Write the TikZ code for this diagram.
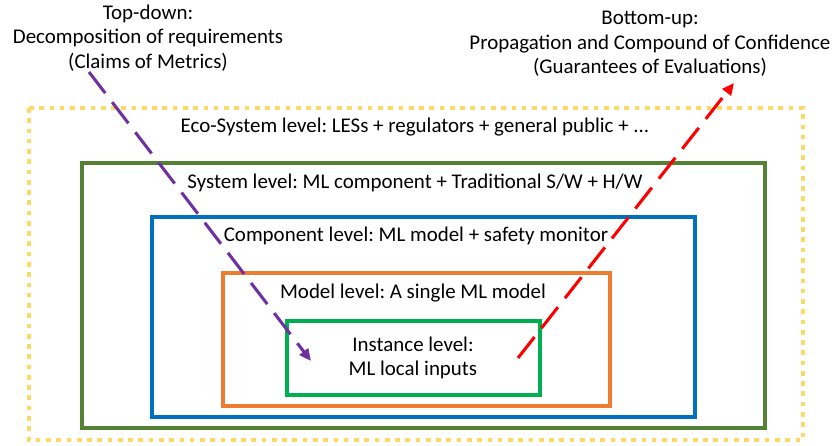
\documentclass[tikz,border=0pt]{standalone}
\usepackage{fontspec}
\setmainfont{Carlito}
\usepackage{xcolor}
\usepackage{tikz}
\usetikzlibrary{arrows.meta}
\definecolor{lvlyellow}{HTML}{FFD966}
\definecolor{lvlolive}{HTML}{548235}
\definecolor{lvlblue}{HTML}{0070C0}
\definecolor{lvlorange}{HTML}{ED7D31}
\definecolor{lvlgreen}{HTML}{00B050}
\definecolor{lvlpurple}{HTML}{7030A0}
\definecolor{lvlred}{HTML}{FF0000}
\frenchspacing

\begin{document}
\begin{tikzpicture}[x=0.75pt,y=-0.75pt,
 lvltext/.style={font=\fontsize{15.7}{18.5}\selectfont,text=black,inner sep=1pt,align=center},
 lvlbox/.style={line width=3.4pt},
 flowline/.style={line width=2.3pt,dash pattern=on 20pt off 8.5pt,
  -{Triangle[length=9pt,width=8pt]}}]
% Pixel grid: 833 x 446, y grows downwards
\useasboundingbox (0,0) rectangle (833,446);

% ── Nested level boxes (outer to inner) ─────────────────────────
\draw[lvlyellow,line width=3pt,dash pattern=on 3.5pt off 4.2pt]
 (29,108) rectangle (803,440);
\draw[lvlbox,lvlolive] (82,163) rectangle (765,428);
\draw[lvlbox,lvlblue] (152,217) rectangle (695,417);
\draw[lvlbox,lvlorange] (223,273) rectangle (610,406);
\draw[lvlbox,lvlgreen] (287,321) rectangle (540,395);

% ── Level labels ────────────────────────────────────────────────
\node[lvltext] (eco) at (415,127)
 {Eco-System level: LESs + regulators + general public + ...};
\node[lvltext] (sys) at (415,183)
 {System level: ML component + Traditional S/W + H/W};
\node[lvltext] (comp) at (416,236) {Component level: ML model + safety monitor};
\node[lvltext] (model) at (413,293) {Model level: A single ML model};
\node[lvltext] (inst) at (413,358) {Instance level:\\ML local inputs};

% ── Direction captions ──────────────────────────────────────────
\node[lvltext] (topdown) at (148,38)
 {Top-down:\\Decomposition of requirements\\(Claims of Metrics)};
\node[lvltext] (bottomup) at (650,44)
 {Bottom-up:\\Propagation and Compound of Confidence\\(Guarantees of Evaluations)};

% ── Flow arrows ─────────────────────────────────────────────────
\coordinate (tdstart) at (89,72);
\coordinate (tdend) at (311,361);
\coordinate (bustart) at (518,358);
\coordinate (buend) at (734,83);
\draw[flowline,lvlpurple] (tdstart) -- (tdend);
\draw[flowline,lvlred] (bustart) -- (buend);
\end{tikzpicture}
\end{document}
